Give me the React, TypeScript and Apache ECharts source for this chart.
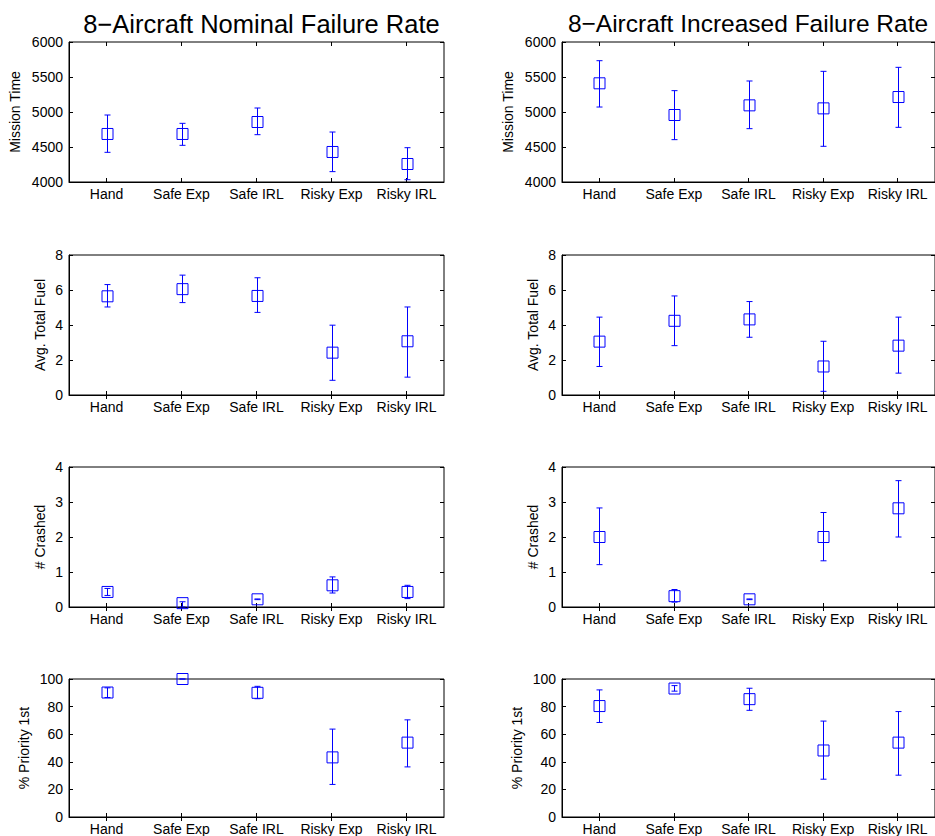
import React, { useEffect, useRef } from "react";
import * as echarts from "echarts";

const categories = ["Hand", "Safe Exp", "Safe IRL", "Risky Exp", "Risky IRL"];

const nominalTimeMean = [4686, 4686, 4857, 4429, 4257];
const nominalTimeLow = [4424, 4524, 4676, 4148, 4033];
const nominalTimeHigh = [4957, 4838, 5057, 4714, 4490];

const increasedTimeMean = [5410, 4957, 5095, 5052, 5214];
const increasedTimeLow = [5071, 4605, 4762, 4510, 4781];
const increasedTimeHigh = [5733, 5305, 5443, 5581, 5638];

const nominalFuelMean = [5.64, 6.05, 5.66, 2.42, 3.07];
const nominalFuelLow = [5.03, 5.28, 4.72, 0.84, 1.02];
const nominalFuelHigh = [6.31, 6.85, 6.7, 3.99, 5.03];

const increasedFuelMean = [3.05, 4.24, 4.32, 1.63, 2.82];
const increasedFuelLow = [1.63, 2.82, 3.3, 0.21, 1.25];
const increasedFuelHigh = [4.45, 5.66, 5.34, 3.07, 4.45];

const nominalCrashMean = [0.43, 0.11, 0.22, 0.62, 0.43];
const nominalCrashLow = [0.33, 0.0, 0.21, 0.4, 0.24];
const nominalCrashHigh = [0.53, 0.15, 0.23, 0.86, 0.62];

const increasedCrashMean = [2.0, 0.31, 0.22, 2.0, 2.82];
const increasedCrashLow = [1.21, 0.14, 0.21, 1.32, 2.0];
const increasedCrashHigh = [2.83, 0.5, 0.23, 2.7, 3.61];

const nominalPriorityMean = [90.2, 100, 90, 43.2, 53.9];
const nominalPriorityLow = [86.6, 100, 85.7, 23.6, 36.3];
const nominalPriorityHigh = [93.6, 100, 94.7, 63.7, 70.4];

const increasedPriorityMean = [80.4, 93.1, 85.4, 48.2, 53.9];
const increasedPriorityLow = [68.5, 91.2, 77.3, 27.4, 30.3];
const increasedPriorityHigh = [92.1, 95.2, 93.3, 69.5, 76.4];

const titles = ["8\u2212Aircraft Nominal Failure Rate", "8\u2212Aircraft Increased Failure Rate"];
const yNames = ["Mission Time", "Avg. Total Fuel", "# Crashed", "% Priority 1st"];
const yMins = [4000, 0, 0, 0];
const yMaxs = [6000, 8, 4, 100];
const yIntervals = [500, 2, 1, 20];

const FONT = "'Liberation Sans', Arial, Helvetica, sans-serif";
const BLUE = "#0000ff";

const panelData = [
  [
    [nominalTimeMean, nominalTimeLow, nominalTimeHigh],
    [increasedTimeMean, increasedTimeLow, increasedTimeHigh],
  ],
  [
    [nominalFuelMean, nominalFuelLow, nominalFuelHigh],
    [increasedFuelMean, increasedFuelLow, increasedFuelHigh],
  ],
  [
    [nominalCrashMean, nominalCrashLow, nominalCrashHigh],
    [increasedCrashMean, increasedCrashLow, increasedCrashHigh],
  ],
  [
    [nominalPriorityMean, nominalPriorityLow, nominalPriorityHigh],
    [increasedPriorityMean, increasedPriorityLow, increasedPriorityHigh],
  ],
];

const gridLefts = [69, 562];
const gridTops = [42, 255, 467, 679];
const gridWidth = 375;
const gridHeight = 140;
const nameGaps = [47, 22, 22, 38.5];

function buildOption() {
  const grid: any[] = [];
  const xAxis: any[] = [];
  const yAxis: any[] = [];
  const series: any[] = [];
  let g = 0;
  for (let r = 0; r < 4; r++) {
    for (let c = 0; c < 2; c++) {
      grid.push({
        left: gridLefts[c],
        top: gridTops[r],
        width: gridWidth,
        height: gridHeight,
        show: true,
        borderColor: "#000",
        borderWidth: 1,
        backgroundColor: "transparent",
        containLabel: false,
      });
      const tick = { show: true, inside: true, alignWithLabel: true, length: 4, lineStyle: { color: "#000", width: 1 } };
      xAxis.push({
        type: "category",
        gridIndex: g,
        data: categories,
        position: "bottom",
        boundaryGap: true,
        axisLine: { show: true, lineStyle: { color: "#000", width: 1 } },
        axisTick: tick,
        axisLabel: { show: true, color: "#000", fontSize: 14, fontFamily: FONT, margin: 5, interval: 0 },
        splitLine: { show: false },
      });
      xAxis.push({
        type: "category",
        gridIndex: g,
        data: categories,
        position: "top",
        boundaryGap: true,
        axisLine: { show: false },
        axisTick: tick,
        axisLabel: { show: false },
        splitLine: { show: false },
      });
      const yBase = {
        type: "value",
        gridIndex: g,
        min: yMins[r],
        max: yMaxs[r],
        interval: yIntervals[r],
        splitLine: { show: false },
        axisTick: { show: true, inside: true, length: 4, lineStyle: { color: "#000", width: 1 } },
      };
      yAxis.push({
        ...yBase,
        position: "left",
        name: yNames[r],
        nameLocation: "middle",
        nameRotate: 90,
        nameGap: nameGaps[r],
        nameTextStyle: { color: "#000", fontSize: 14, fontFamily: FONT },
        axisLine: { show: true, lineStyle: { color: "#000", width: 1 } },
        axisLabel: {
          show: true,
          color: "#000",
          fontSize: 14,
          fontFamily: FONT,
          margin: 6,
          formatter: (v: number) => String(v),
        },
      });
      yAxis.push({
        ...yBase,
        position: "right",
        axisLine: { show: false },
        axisLabel: { show: false },
      });
      const [mean, low, high] = panelData[r][c];
      const data = categories.map((_, i) => [i, mean[i], low[i], high[i]]);
      series.push({
        type: "custom",
        name: `${yNames[r]} ${c === 0 ? "Nominal" : "Increased"}`,
        xAxisIndex: 2 * g,
        yAxisIndex: 2 * g,
        clip: false,
        encode: { x: 0, y: [1, 2, 3] },
        data,
        renderItem: (params: any, api: any) => {
          const xi = api.value(0);
          const pm = api.coord([xi, api.value(1)]);
          const pl = api.coord([xi, api.value(2)]);
          const ph = api.coord([xi, api.value(3)]);
          const x = Math.round(pm[0]) + 0.5;
          const cap = 3;
          const half = 5.5;
          const st = { stroke: BLUE, lineWidth: 1, fill: null };
          return {
            type: "group",
            children: [
              { type: "line", shape: { x1: x, y1: pl[1], x2: x, y2: ph[1] }, style: st },
              { type: "line", shape: { x1: x - cap, y1: pl[1], x2: x + cap, y2: pl[1] }, style: st },
              { type: "line", shape: { x1: x - cap, y1: ph[1], x2: x + cap, y2: ph[1] }, style: st },
              {
                type: "rect",
                shape: { x: x - half, y: pm[1] - half, width: 2 * half, height: 2 * half },
                style: { stroke: BLUE, lineWidth: 1, fill: "none" },
              },
            ],
          };
        },
      });
      g++;
    }
  }
  const title = [
    {
      text: titles[0],
      left: gridLefts[0] + gridWidth / 2,
      top: 6,
      textAlign: "center",
      textStyle: { color: "#000", fontSize: 25.5, fontWeight: "normal", fontFamily: FONT },
    },
    {
      text: titles[1],
      left: 743,
      top: 6,
      textAlign: "center",
      textStyle: { color: "#000", fontSize: 24.5, fontWeight: "normal", fontFamily: FONT },
    },
  ];
  return {
    animation: false,
    backgroundColor: "#fff",
    title,
    grid,
    xAxis,
    yAxis,
    series,
  };
}

export default function App() {
  const ref = useRef<HTMLDivElement>(null);
  useEffect(() => {
    document.body.style.margin = "0";
    if (!ref.current) return;
    const chart = echarts.init(ref.current, null, { renderer: "svg" });
    chart.setOption(buildOption() as any);
    return () => chart.dispose();
  }, []);
  return (
    <div
      ref={ref}
      style={{ position: "absolute", left: 0, top: 0, width: 935, height: 836, background: "#fff" }}
    />
  );
}
